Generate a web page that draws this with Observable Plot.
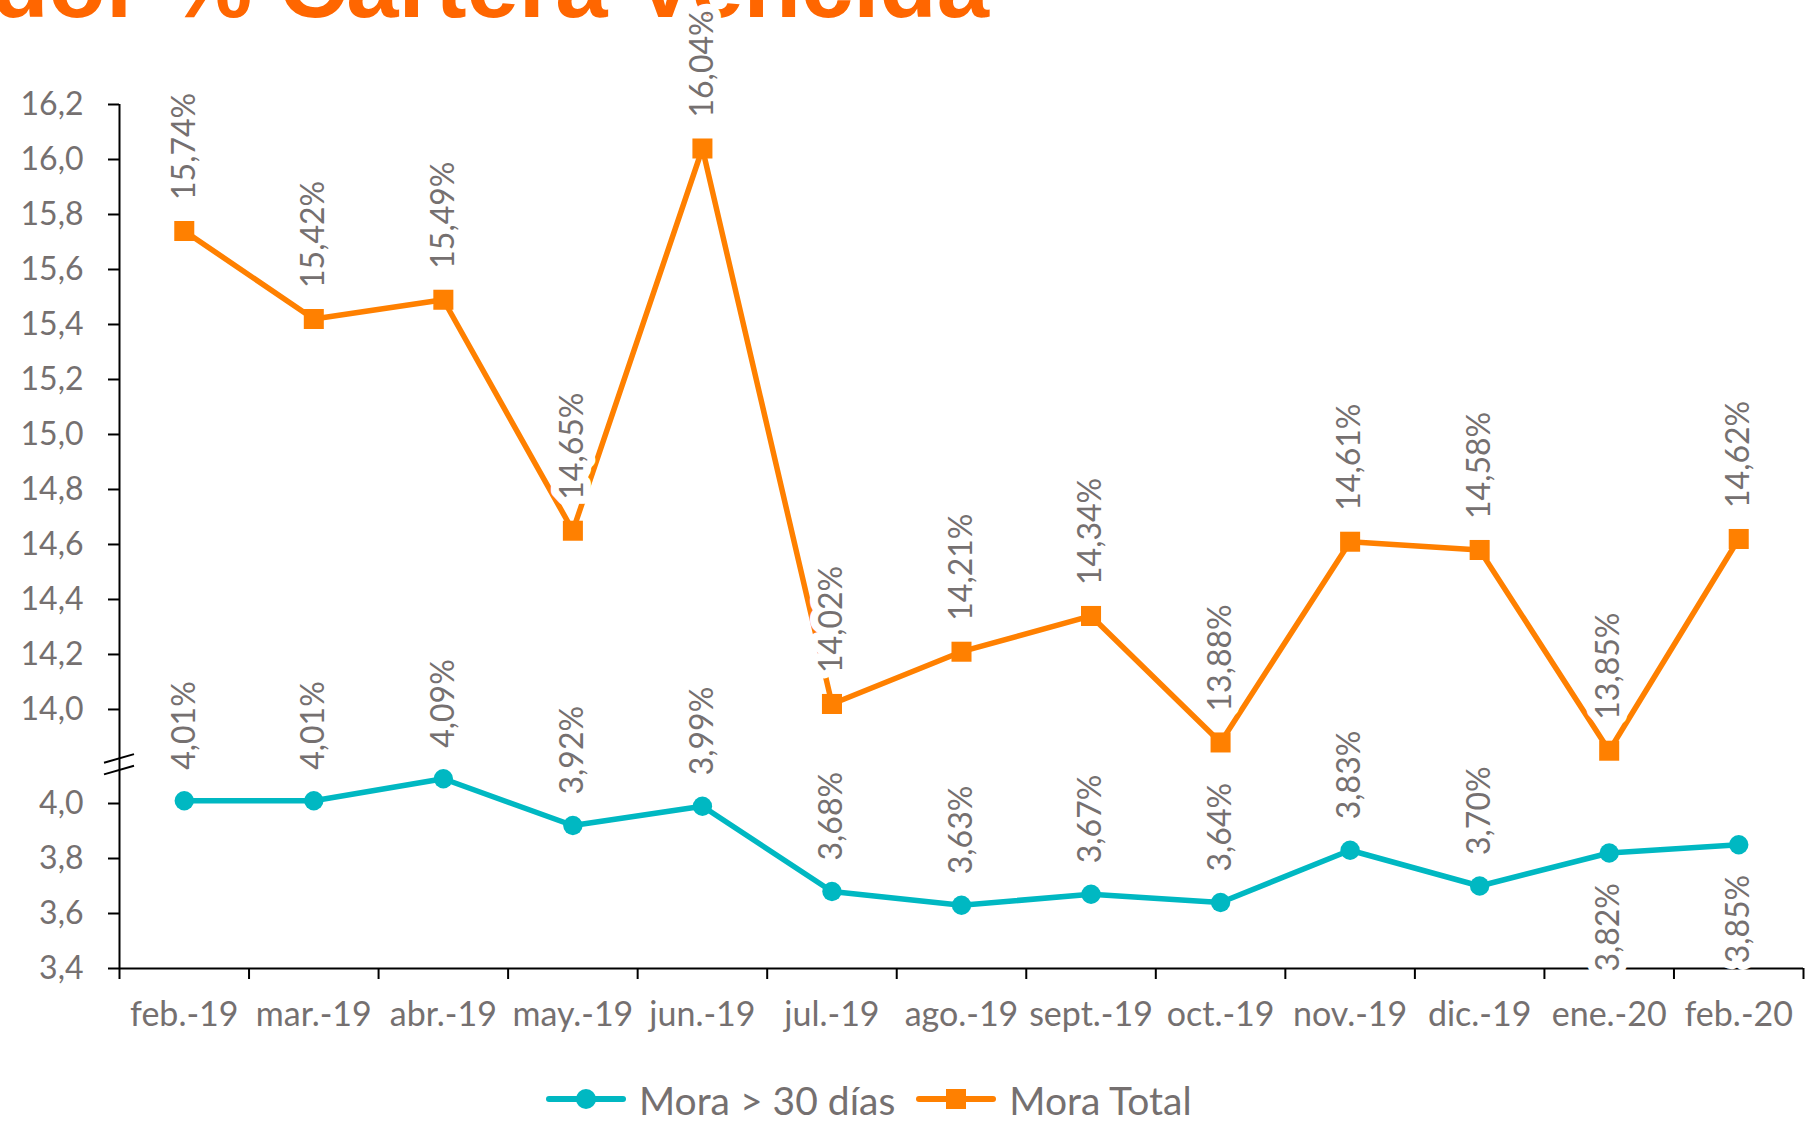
<!DOCTYPE html>
<html><head><meta charset="utf-8">
<script src="https://cdn.jsdelivr.net/npm/d3@7"></script>
<script src="https://cdn.jsdelivr.net/npm/@observablehq/plot@0.6"></script>
<style>
html,body{margin:0;padding:0;background:#fff;overflow:hidden;}
#wrap{position:relative;width:1807px;height:1124px;overflow:hidden;background:#fff;}
#title{position:absolute;right:818px;top:-62px;font:bold 94px/94px "Liberation Sans",Arial,sans-serif;color:#FF6600;white-space:nowrap;}
#chart{position:absolute;left:0;top:0;}
#legend{position:absolute;left:546px;top:1081px;display:flex;align-items:flex-start;font-family:Lato,sans-serif;font-size:39px;line-height:39px;color:#757070;white-space:nowrap;}
#legend span{margin-left:13px;margin-right:21px;}
</style></head><body>
<div id="wrap"><div id="title"></div><div id="chart"></div><div id="legend"></div></div>
<script>
// ---- data ----
const titleText = "Indicador % Cartera Vencida";
const months = ["feb.-19","mar.-19","abr.-19","may.-19","jun.-19","jul.-19","ago.-19","sept.-19","oct.-19","nov.-19","dic.-19","ene.-20","feb.-20"];
const seriesNames = ["Mora > 30 días", "Mora Total"];
const mora30 = [4.01, 4.01, 4.09, 3.92, 3.99, 3.68, 3.63, 3.67, 3.64, 3.83, 3.70, 3.82, 3.85];
const moraTotal = [15.74, 15.42, 15.49, 14.65, 16.04, 14.02, 14.21, 14.34, 13.88, 14.61, 14.58, 13.85, 14.62];
const yTicksLow = [3.4, 3.6, 3.8, 4.0];
const yTicksHigh = [14.0, 14.2, 14.4, 14.6, 14.8, 15.0, 15.2, 15.4, 15.6, 15.8, 16.0, 16.2];
const mora30LabelsBelow = ["ene.-20", "feb.-20"];

// ---- styles ----
const orange = "#FF8000", teal = "#00B8C2", gray = "#757070";

// broken axis: values above 10 are shifted down so 14.0 sits just above 4.0
const breakOffset = 9.658;
const brk = v => v >= 10 ? v - breakOffset : v;
const breakAt = 4.141;
const yTicksAll = [...yTicksLow, ...yTicksHigh];
const fmtTick = v => v.toFixed(1).replace(".", ",");
const fmtPct = v => v.toFixed(2).replace(".", ",") + "%";
const tickLabel = t => { const v = yTicksAll.find(a => Math.abs(brk(a) - t) < 1e-6); return v == null ? "" : fmtTick(v); };

const rows30 = months.map((m, i) => ({m, i, v: mora30[i]}));
const rowsT = months.map((m, i) => ({m, i, v: moraTotal[i]}));
const rows30Above = rows30.filter(d => !mora30LabelsBelow.includes(d.m));
const rows30Below = rows30.filter(d => mora30LabelsBelow.includes(d.m));

document.getElementById("title").textContent = titleText;

const breakMark = (index, scales) => {
  const ns = "http://www.w3.org/2000/svg";
  const g = document.createElementNS(ns, "g");
  const y0 = scales.y(breakAt), x0 = scales.x(0);
  for (const off of [-5.8, 5.8]) {
    const l = document.createElementNS(ns, "line");
    l.setAttribute("x1", x0 - 15); l.setAttribute("x2", x0 + 15);
    l.setAttribute("y1", y0 + off + 4.3); l.setAttribute("y2", y0 + off - 4.3);
    l.setAttribute("stroke", "#000"); l.setAttribute("stroke-width", 2);
    g.appendChild(l);
  }
  return g;
};

const X = d => d.i + 0.5;
const Y = d => brk(d.v);
const labelOpts = {x: X, y: Y, text: d => fmtPct(d.v), rotate: -90, lineAnchor: "middle",
  fill: gray, stroke: "white", strokeWidth: 16, strokeLinejoin: "round", fontSize: 32};

const chart = Plot.plot({
  width: 1807, height: 1124,
  marginLeft: 119, marginRight: 4, marginTop: 104, marginBottom: 156,
  x: {domain: [0, 13]},
  y: {domain: [3.4, brk(16.2)]},
  style: {fontFamily: "Lato, sans-serif", background: "transparent", overflow: "visible"},
  marks: [
    Plot.axisY(yTicksAll.map(brk), {tickSize: 11, tickPadding: 25, stroke: "#000", strokeWidth: 2, color: gray, fontSize: 32, tickFormat: tickLabel, label: null}),
    Plot.axisX(d3.range(14), {tickSize: 11, stroke: "#000", strokeWidth: 2, tickFormat: () => "", label: null}),
    Plot.axisX(months.map((m, i) => i + 0.5), {tickSize: 0, tickPadding: 33, color: gray, fontSize: 34, tickFormat: v => months[Math.floor(v)], label: null}),
    Plot.ruleY([3.4], {stroke: "#000", strokeWidth: 2}),
    Plot.ruleX([0], {y1: 3.4, y2: brk(16.2), stroke: "#000", strokeWidth: 2}),
    breakMark,
    Plot.line(rows30, {x: X, y: Y, stroke: teal, strokeWidth: 5.5}),
    Plot.dot(rows30, {x: X, y: Y, r: 9.7, fill: teal}),
    Plot.line(rowsT, {x: X, y: Y, stroke: orange, strokeWidth: 5.5}),
    Plot.dot(rowsT, {x: X, y: Y, symbol: "square", r: 11.3, fill: orange}),
    Plot.text(rowsT, {...labelOpts, textAnchor: "start", dy: -31}),
    Plot.text(rows30Above, {...labelOpts, textAnchor: "start", dy: -31}),
    Plot.text(rows30Below, {...labelOpts, textAnchor: "end", dy: 30})
  ]
});
document.getElementById("chart").appendChild(chart);

// legend
const legend = document.getElementById("legend");
const colors = [teal, orange];
seriesNames.forEach((name, k) => {
  const ns = "http://www.w3.org/2000/svg";
  const s = document.createElementNS(ns, "svg");
  s.setAttribute("width", 80); s.setAttribute("height", 39);
  const l = document.createElementNS(ns, "line");
  l.setAttribute("x1", 3); l.setAttribute("x2", 77); l.setAttribute("y1", 18); l.setAttribute("y2", 18);
  l.setAttribute("stroke", colors[k]); l.setAttribute("stroke-width", 6); l.setAttribute("stroke-linecap", "round");
  s.appendChild(l);
  let m;
  if (k === 0) {
    m = document.createElementNS(ns, "circle");
    m.setAttribute("cx", 40); m.setAttribute("cy", 18); m.setAttribute("r", 10);
  } else {
    m = document.createElementNS(ns, "rect");
    m.setAttribute("x", 30); m.setAttribute("y", 8); m.setAttribute("width", 20); m.setAttribute("height", 20);
  }
  m.setAttribute("fill", colors[k]);
  s.appendChild(m);
  legend.appendChild(s);
  const t = document.createElement("span");
  t.textContent = name;
  legend.appendChild(t);
});
</script>
</body></html>
